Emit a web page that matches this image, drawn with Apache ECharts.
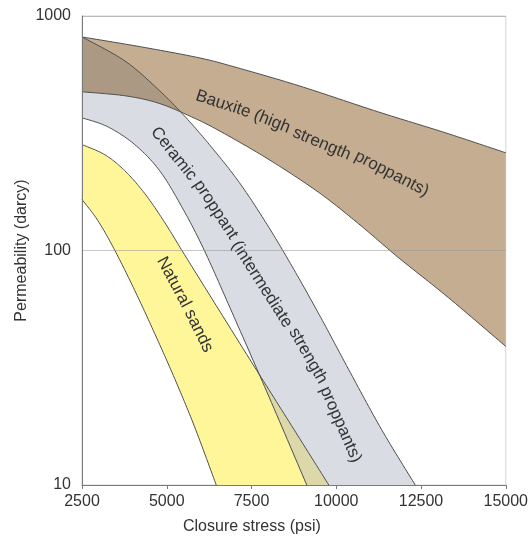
<!DOCTYPE html>
<html><head><meta charset="utf-8">
<script src="https://cdn.jsdelivr.net/npm/echarts@6/dist/echarts.min.js"></script>
<style>html,body{margin:0;padding:0;background:#fff}#c{width:531px;height:540px}</style>
</head><body><div id="c"></div>
<script>
// ---- data (closure stress psi, permeability darcy) ----
const xTicks = [2500, 5000, 7500, 10000, 12500, 15000];
const yTicks = [10, 100, 1000];
const bauxiteUpper = [[2500,814],[4260,738],[5960,663],[6990,607],[8900,504],[11240,390],[13210,318],[15000,261]];
const bauxiteLower = [[2500,475],[3760,457],[4730,426],[5670,375],[6550,324],[8020,244],[9480,177],[10660,130],[11830,93.4],[13300,63.1],[15000,39]];
const ceramicUpper = [[2500,814],[3760,644],[4730,489],[5520,375],[6310,277],[7140,195],[7960,129],[8750,83.0],[9540,51.9],[10360,31.2],[11330,17.3],[12330,10]];
const ceramicLower = [[2500,368],[3260,337],[4055,283],[4790,219],[5460,152],[6110,100],[6990,51.9],[8020,23.7],[9130,10]];
const sandUpper = [[2500,283],[3175,256],[3760,219],[4350,175],[4935,132],[5520,96.2],[6400,60.1],[7430,34.7],[8600,18.7],[9780,10]];
const sandLower = [[2500,165],[2970,134],[3470,100],[4055,67.6],[4640,44.4],[5230,28.5],[5815,17.8],[6460,10]];
const bandNames = ['Bauxite (high strength proppants)', 'Ceramic proppant (intermediate strength proppants)', 'Natural sands'];
// label guide paths (data coords) along which band names run
const bauxiteGuide = [[5520,470],[6640,422],[8050,357],[9510,288],[11160,230],[13000,166]];
const ceramicGuide = [[4348,361],[5082,272],[6344,157],[7752,73.8],[9190,35.1],[10158,17.7],[10715,11.1]];
const sandGuide = [[4350,120],[4935,86.4],[5520,60.1],[6110,40.6],[6610,28.3]];

const COLORS = {bauxite: '#C4AD91', ceramic: '#D9DDE3', sand: '#FFF69A', bauxiteCeramic: '#AB9983', sandCeramic: '#DCD8AA', edge: '#4e4e4e', text: '#333'};
const FONT = '17px "Liberation Sans", Arial, sans-serif';
const mctx = document.createElement('canvas').getContext('2d');
mctx.font = FONT;

function sample(pts) {
  const out = [];
  for (let i = 0; i < pts.length - 1; i++) {
    const p0 = pts[i-1] || pts[i], p1 = pts[i], p2 = pts[i+1], p3 = pts[i+2] || pts[i+1];
    for (let k = 0; k < 16; k++) {
      const t = k / 16, t2 = t * t, t3 = t2 * t;
      const f = j => 0.5 * (2*p1[j] + (-p0[j]+p2[j])*t + (2*p0[j]-5*p1[j]+4*p2[j]-p3[j])*t2 + (-p0[j]+3*p1[j]-3*p2[j]+p3[j])*t3);
      out.push([f(0), f(1)]);
    }
  }
  out.push(pts[pts.length-1].slice());
  return out;
}

function placeWords(str, guidePx, children) {
  const pts = sample(guidePx);
  const cum = [0];
  for (let i = 1; i < pts.length; i++) cum.push(cum[i-1] + Math.hypot(pts[i][0]-pts[i-1][0], pts[i][1]-pts[i-1][1]));
  const total = cum[cum.length-1];
  const W = mctx.measureText(str).width;
  const s0 = total/2 - W/2;
  const at = s => {
    let i = 1; while (i < cum.length - 1 && cum[i] < s) i++;
    const a = pts[i-1], b = pts[i];
    const seg = cum[i] - cum[i-1] || 1;
    const u = (s - cum[i-1]) / seg;
    return {x: a[0] + (b[0]-a[0])*u, y: a[1] + (b[1]-a[1])*u, ang: Math.atan2(b[1]-a[1], b[0]-a[0])};
  };
  const words = str.split(' ');
  let idx = 0;
  words.forEach(w => {
    const pre = mctx.measureText(str.slice(0, idx)).width;
    const ww = mctx.measureText(w).width;
    const p = at(s0 + pre + ww/2);
    children.push({type: 'text', x: p.x, y: p.y, rotation: -p.ang,
      style: {text: w, font: FONT, fill: COLORS.text, align: 'center', verticalAlign: 'middle'}});
    idx += w.length + 1;
  });
}

const chart = echarts.init(document.getElementById('c'), null, {renderer: 'canvas'});
chart.setOption({
  backgroundColor: '#fff',
  animation: false,
  grid: {left: 82, right: 23, top: 16, bottom: 54, show: true, borderColor: '#d4d4d4', borderWidth: 1},
  xAxis: {
    type: 'value', min: xTicks[0], max: xTicks[xTicks.length-1], interval: 2500, z: 5,
    name: 'Closure stress (psi)', nameLocation: 'middle', nameGap: 34, nameMoveOverlap: false,
    nameTextStyle: {fontSize: 16, color: '#333', fontFamily: 'Liberation Sans', padding: [0, 84, 0, 0]},
    axisLine: {lineStyle: {color: '#7a7a7a'}},
    axisTick: {show: true, length: 4, lineStyle: {color: '#7a7a7a'}},
    axisLabel: {fontSize: 16, color: '#333', fontFamily: 'Liberation Sans', margin: 9, formatter: v => String(v)},
    splitLine: {show: false}
  },
  yAxis: {
    type: 'log', logBase: 10, min: yTicks[0], max: yTicks[yTicks.length-1], z: 5,
    name: 'Permeability (darcy)', nameLocation: 'middle', nameGap: 52, nameMoveOverlap: false,
    nameTextStyle: {fontSize: 16, color: '#333', fontFamily: 'Liberation Sans'},
    axisLine: {show: true, lineStyle: {color: '#7a7a7a'}},
    axisTick: {show: false},
    axisLabel: {fontSize: 16, color: '#333', fontFamily: 'Liberation Sans', margin: 11, formatter: v => String(v)},
    splitLine: {show: true, lineStyle: {color: 'rgba(150,150,150,0.55)', width: 1}},
    minorTick: {show: false}
  },
  series: [{
    type: 'custom', coordinateSystem: 'cartesian2d', silent: true, z: 2,
    data: [[xTicks[0], yTicks[0]]],
    renderItem: (params, api) => {
      const toPx = arr => arr.map(p => api.coord(p));
      const poly = (up, lo) => sample(toPx(up)).concat(sample(toPx(lo)).reverse());
      const ceramicPoly = poly(ceramicUpper, ceramicLower);
      const bauxitePoly = poly(bauxiteUpper, bauxiteLower);
      const sandPoly = poly(sandUpper, sandLower);
      const children = [
        {type: 'polygon', shape: {points: ceramicPoly}, style: {fill: COLORS.ceramic}},
        {type: 'polygon', shape: {points: bauxitePoly}, style: {fill: COLORS.bauxite}},
        {type: 'polygon', shape: {points: sandPoly}, style: {fill: COLORS.sand}},
        {type: 'polygon', shape: {points: ceramicPoly}, style: {fill: COLORS.bauxiteCeramic},
          clipPath: {type: 'polygon', shape: {points: bauxitePoly}}},
        {type: 'polygon', shape: {points: ceramicPoly}, style: {fill: COLORS.sandCeramic},
          clipPath: {type: 'polygon', shape: {points: sandPoly}}}
      ];
      [bauxiteUpper, bauxiteLower, ceramicUpper, ceramicLower, sandUpper, sandLower].forEach(c =>
        children.push({type: 'polyline', shape: {points: sample(toPx(c))},
          style: {stroke: COLORS.edge, lineWidth: 1, fill: null}}));
      placeWords(bandNames[0], toPx(bauxiteGuide), children);
      placeWords(bandNames[1], toPx(ceramicGuide), children);
      placeWords(bandNames[2], toPx(sandGuide), children);
      return {type: 'group', children};
    }
  }]
});
</script></body></html>
